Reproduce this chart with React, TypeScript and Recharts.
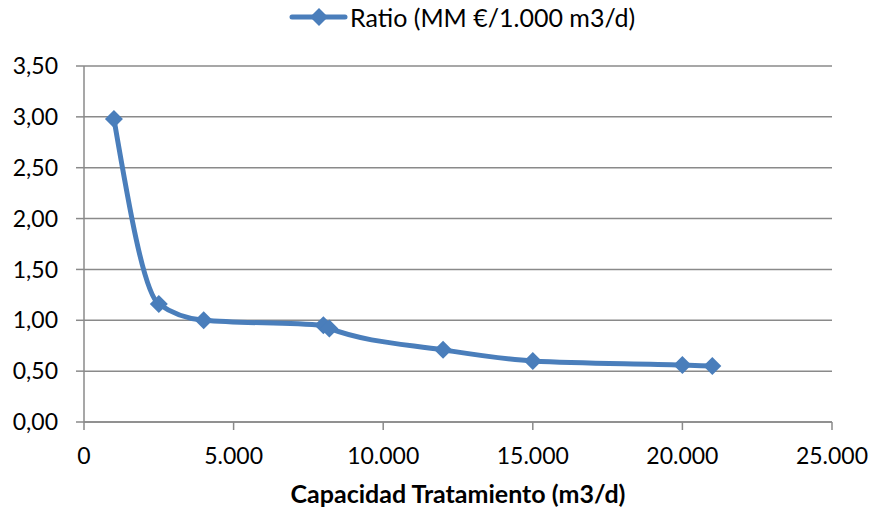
import React from 'react';
import { LineChart, Line, XAxis, YAxis, CartesianGrid, Legend, Label } from 'recharts';

const capacity = [1000, 2500, 4000, 8000, 8200, 12000, 15000, 20000, 21000];
const ratio = [2.98, 1.16, 1.0, 0.95, 0.92, 0.71, 0.6, 0.56, 0.55];
const xTicks = [0, 5000, 10000, 15000, 20000, 25000];
const yTicks = [0, 0.5, 1, 1.5, 2, 2.5, 3, 3.5];
const seriesName = 'Ratio (MM €/1.000 m3/d)';
const xTitle = 'Capacidad Tratamiento (m3/d)';

const data = capacity.map((c, i) => ({ capacity: c, ratio: ratio[i] }));

const BLUE = '#4a7ebb';
const GRID = '#8a8a8a';
const FONT = 'Lato, "Open Sans", sans-serif';

const fmtThousands = (v: number) => String(v).replace(/\B(?=(\d{3})+(?!\d))/g, '.');
const fmtDec = (v: number) => v.toFixed(2).replace('.', ',');

const Diamond = (props: any) => {
  const { cx, cy } = props;
  if (cx == null || cy == null) return null;
  const r = 9;
  return <polygon points={`${cx},${cy - r} ${cx + r},${cy} ${cx},${cy + r} ${cx - r},${cy}`} fill={BLUE} />;
};

const LegendContent = () => (
  <svg width={873} height={36}>
    <line x1={292} y1={17} x2={345} y2={17} stroke={BLUE} strokeWidth={5} strokeLinecap="round" />
    <polygon points="319,8 328,17 319,26 310,17" fill={BLUE} />
    <text x={350} y={27} fontSize={25} fontFamily={FONT} fill="#000">
      {seriesName}
    </text>
  </svg>
);

export default function App() {
  return (
    <div style={{ position: 'absolute', left: 0, top: 0, width: 873, height: 513, background: '#fff' }}>
      <LineChart width={873} height={513} data={data} margin={{ top: 66, right: 41, bottom: 0, left: 0 }}>
        <CartesianGrid horizontal vertical={false} stroke={GRID} strokeWidth={1.5} />
        <XAxis
          type="number"
          dataKey="capacity"
          domain={[0, 25000]}
          ticks={xTicks}
          tickFormatter={fmtThousands}
          height={91}
          stroke={GRID}
          strokeWidth={1.5}
          tickSize={8}
          tickMargin={18}
          tick={{ fill: '#000', fontSize: 23, fontFamily: FONT }}
        >
          <Label
            value={xTitle}
            position="insideBottom"
            offset={10}
            style={{ fill: '#000', fontSize: 25, fontWeight: 'bold', fontFamily: FONT }}
          />
        </XAxis>
        <YAxis
          type="number"
          domain={[0, 3.5]}
          ticks={yTicks}
          tickFormatter={fmtDec}
          width={84}
          stroke={GRID}
          strokeWidth={1.5}
          tickSize={8}
          tickMargin={18}
          tick={{ fill: '#000', fontSize: 23, fontFamily: FONT }}
        />
        <Legend
          verticalAlign="middle"
          align="center"
          wrapperStyle={{ top: 0, left: 0, width: 873 }}
          content={LegendContent}
        />
        <Line
          type="monotone"
          dataKey="ratio"
          name={seriesName}
          stroke={BLUE}
          strokeWidth={5}
          dot={<Diamond />}
          activeDot={false}
          isAnimationActive={false}
        />
      </LineChart>
    </div>
  );
}
